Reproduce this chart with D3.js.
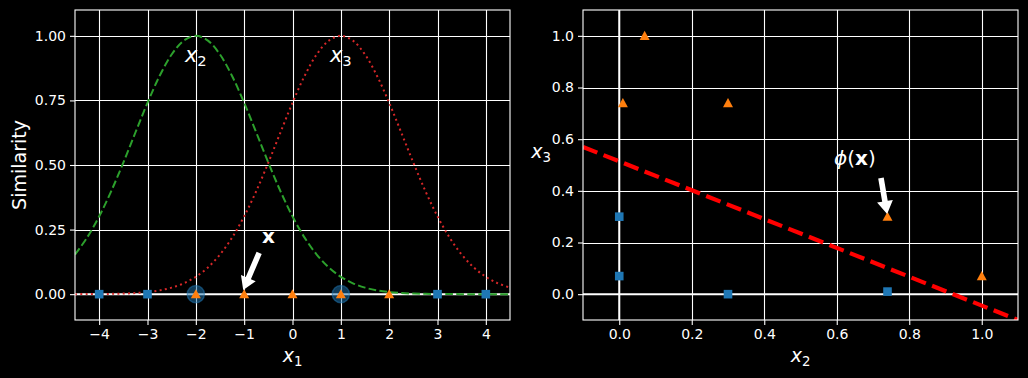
<!DOCTYPE html>
<html>
<head>
<meta charset="utf-8">
<script src="https://cdn.jsdelivr.net/npm/d3@7"></script>
<style>
  html, body { margin: 0; padding: 0; background: #000; }
  svg { display: block; }
  text { font-family: 'DejaVu Sans', sans-serif; fill: #fff; }
</style>
</head>
<body>
<div id="chart"></div>
<script>
// sample grid for the two similarity curves
const sampleX = [-4.5, -4.25, -4, -3.75, -3.5, -3.25, -3, -2.75, -2.5, -2.25, -2, -1.75, -1.5, -1.25, -1, -0.75,
  -0.5, -0.25, 0, 0.25, 0.5, 0.75, 1, 1.25, 1.5, 1.75, 2, 2.25, 2.5, 2.75, 3, 3.25, 3.5, 3.75, 4, 4.25, 4.5];
const simX2 = [0.1534, 0.2190, 0.3012, 0.3990, 0.5092, 0.6258, 0.7408, 0.8447, 0.9277, 0.9814, 1.0000, 0.9814,
  0.9277, 0.8447, 0.7408, 0.6258, 0.5092, 0.3990, 0.3012, 0.2190, 0.1534, 0.1035, 0.0672, 0.0421, 0.0253, 0.0147,
  0.0082, 0.0044, 0.0023, 0.0012, 0.0006, 0.0003, 0.0001, 0.0001, 0.0000, 0.0000, 0.0000];
const simX3 = [0.0001, 0.0003, 0.0006, 0.0012, 0.0023, 0.0044, 0.0082, 0.0147, 0.0253, 0.0421, 0.0672, 0.1035,
  0.1534, 0.2190, 0.3012, 0.3990, 0.5092, 0.6258, 0.7408, 0.8447, 0.9277, 0.9814, 1.0000, 0.9814, 0.9277, 0.8447,
  0.7408, 0.6258, 0.5092, 0.3990, 0.3012, 0.2190, 0.1534, 0.1035, 0.0672, 0.0421, 0.0253];

// the 1D instances, their class and the two landmarks
const x1Points = [-4, -3, -2, -1, 0, 1, 2, 3, 4];
const pointClass = [0, 0, 1, 1, 1, 1, 1, 0, 0];
const landmarks = [-2, 1];

// the same instances in the new feature space
const featX2 = [0.30, 0.74, 1.00, 0.74, 0.30, 0.07, 0.01, 0.00, 0.00];
const featX3 = [0.00, 0.01, 0.07, 0.30, 0.74, 1.00, 0.74, 0.30, 0.07];

// separating line in feature space
const boundaryX = [-0.1, 1.1];
const boundaryY = [0.57, -0.1];

// tick values
const leftXTicks = [-4, -3, -2, -1, 0, 1, 2, 3, 4];
const leftYTicks = [0, 0.25, 0.5, 0.75, 1.0];
const rightXTicks = [0, 0.2, 0.4, 0.6, 0.8, 1.0];
const rightYTicks = [0, 0.2, 0.4, 0.6, 0.8, 1.0];

const width = 1028;
const height = 378;
const plotTop = 10;
const plotBottom = 320;

const blue = '#1f77b4';
const orange = '#ff7f0e';

const svg = d3.select('#chart')
  .append('svg')
  .attr('width', width)
  .attr('height', height)
  .style('background', '#000');

function mathLabel(g, x, y, base, sub, size, anchor) {
  const t = g.append('text')
    .attr('x', x)
    .attr('y', y)
    .attr('text-anchor', anchor || 'middle')
    .style('font-size', `${size}px`);
  t.append('tspan').style('font-style', 'italic').text(base);
  t.append('tspan').attr('dy', size * 0.2).style('font-size', `${size * 0.7}px`).text(sub);
  return t;
}

function arrow(g, tail, tip) {
  const dx = tip[0] - tail[0];
  const dy = tip[1] - tail[1];
  const len = Math.sqrt(dx * dx + dy * dy);
  const u = [dx / len, dy / len];
  const n = [-u[1], u[0]];
  const headLen = 13;
  const headW = 8;
  const bodyW = 2.8;
  const b = [tip[0] - u[0] * headLen, tip[1] - u[1] * headLen];
  const pts = [
    [tail[0] + n[0] * bodyW, tail[1] + n[1] * bodyW],
    [b[0] + n[0] * bodyW, b[1] + n[1] * bodyW],
    [b[0] + n[0] * headW, b[1] + n[1] * headW],
    tip,
    [b[0] - n[0] * headW, b[1] - n[1] * headW],
    [b[0] - n[0] * bodyW, b[1] - n[1] * bodyW],
    [tail[0] - n[0] * bodyW, tail[1] - n[1] * bodyW],
  ];
  g.append('polygon')
    .attr('points', pts.map((p) => p.join(',')).join(' '))
    .attr('fill', '#fff');
}

function frame(id, x, y, xTicks, yTicks, xFmt, yFmt) {
  const g = svg.append('g');
  g.append('clipPath').attr('id', id)
    .append('rect')
    .attr('x', x.range()[0])
    .attr('y', plotTop)
    .attr('width', x.range()[1] - x.range()[0])
    .attr('height', plotBottom - plotTop);

  // grid
  g.append('g')
    .selectAll('line')
    .data(xTicks)
    .join('line')
    .attr('x1', (d) => Math.round(x(d)) + 0.5)
    .attr('x2', (d) => Math.round(x(d)) + 0.5)
    .attr('y1', plotTop)
    .attr('y2', plotBottom)
    .attr('stroke', '#fff')
    .attr('stroke-width', 1.1);
  g.append('g')
    .selectAll('line')
    .data(yTicks)
    .join('line')
    .attr('y1', (d) => Math.round(y(d)) + 0.5)
    .attr('y2', (d) => Math.round(y(d)) + 0.5)
    .attr('x1', x.range()[0])
    .attr('x2', x.range()[1])
    .attr('stroke', '#fff')
    .attr('stroke-width', 1.1);

  const xAxis = d3.axisBottom(x).tickValues(xTicks).tickFormat(xFmt).tickSize(5).tickPadding(4);
  const yAxis = d3.axisLeft(y).tickValues(yTicks).tickFormat(yFmt).tickSize(5).tickPadding(4);

  const ax = g.append('g').attr('transform', `translate(0,${plotBottom})`).call(xAxis);
  const ay = g.append('g').attr('transform', `translate(${x.range()[0]},0)`).call(yAxis);
  [ax, ay].forEach((a) => {
    a.select('.domain').remove();
    a.selectAll('line').attr('stroke', '#fff').attr('stroke-width', 1.1);
    a.selectAll('text').attr('fill', '#fff')
      .style('font-size', '14px')
      .style('font-family', 'DejaVu Sans, sans-serif');
  });

  const plot = g.append('g').attr('clip-path', `url(#${id})`);
  return { g, plot };
}

function spines(g, x) {
  g.append('rect')
    .attr('x', x.range()[0])
    .attr('y', plotTop)
    .attr('width', x.range()[1] - x.range()[0])
    .attr('height', plotBottom - plotTop)
    .attr('fill', 'none')
    .attr('stroke', '#fff')
    .attr('stroke-width', 1.1);
}

function squares(sel, xs, ys) {
  sel.append('g')
    .selectAll('rect')
    .data(xs)
    .join('rect')
    .attr('x', (d) => d - 4.3)
    .attr('y', (d, i) => ys[i] - 4.3)
    .attr('width', 8.6)
    .attr('height', 8.6)
    .attr('fill', blue);
}

function triangles(sel, xs, ys) {
  sel.append('g')
    .selectAll('path')
    .data(xs)
    .join('path')
    .attr('d', (d, i) => `M${d},${ys[i] - 5}L${d + 5},${ys[i] + 4.2}L${d - 5},${ys[i] + 4.2}Z`)
    .attr('fill', orange);
}

// ---------- left panel ----------
const xL = d3.scaleLinear().domain([-4.5, 4.5]).range([75, 510]);
const yL = d3.scaleLinear().domain([-0.1, 1.1]).range([plotBottom, plotTop]);
const leftPanel = frame('clipL', xL, yL, leftXTicks, leftYTicks, d3.format('d'), d3.format('.2f'));

leftPanel.plot.append('line')
  .attr('x1', xL.range()[0])
  .attr('x2', xL.range()[1])
  .attr('y1', yL(0))
  .attr('y2', yL(0))
  .attr('stroke', '#fff')
  .attr('stroke-width', 2);

const curve = d3.line()
  .x((d, i) => xL(sampleX[i]))
  .y((d) => yL(d))
  .curve(d3.curveCatmullRom);

leftPanel.plot.append('path')
  .attr('d', curve(simX2))
  .attr('fill', 'none')
  .attr('stroke', '#2ca02c')
  .attr('stroke-width', 2)
  .attr('stroke-dasharray', '7.7,3.3');

leftPanel.plot.append('path')
  .attr('d', curve(simX3))
  .attr('fill', 'none')
  .attr('stroke', '#d62728')
  .attr('stroke-width', 2)
  .attr('stroke-dasharray', '2,3.3');

leftPanel.plot.append('g')
  .selectAll('circle')
  .data(landmarks)
  .join('circle')
  .attr('cx', (d) => xL(d))
  .attr('cy', yL(0))
  .attr('r', 8.6)
  .attr('fill', blue)
  .attr('fill-opacity', 0.5)
  .attr('stroke', blue)
  .attr('stroke-opacity', 0.5)
  .attr('stroke-width', 1.4);

const blueL = x1Points.filter((d, i) => pointClass[i] === 0);
const orangeL = x1Points.filter((d, i) => pointClass[i] === 1);
squares(leftPanel.plot, blueL.map((d) => xL(d)), blueL.map(() => yL(0)));
triangles(leftPanel.plot, orangeL.map((d) => xL(d)), orangeL.map(() => yL(0)));

spines(leftPanel.g, xL);

mathLabel(leftPanel.g, xL(-2), yL(0.9), 'x', '2', 21);
mathLabel(leftPanel.g, xL(1), yL(0.9), 'x', '3', 21);

arrow(leftPanel.g, [xL(-0.69), yL(0.16)], [xL(-1.02), yL(0.016)]);
leftPanel.g.append('text')
  .attr('x', xL(-0.5))
  .attr('y', yL(0.2))
  .attr('text-anchor', 'middle')
  .style('font-size', '20px')
  .style('font-weight', 'bold')
  .text('x');

mathLabel(leftPanel.g, xL(0), 362, 'x', '1', 19);
leftPanel.g.append('text')
  .attr('transform', `translate(26,${(plotTop + plotBottom) / 2}) rotate(-90)`)
  .attr('text-anchor', 'middle')
  .style('font-size', '19px')
  .text('Similarity');

// ---------- right panel ----------
const xR = d3.scaleLinear().domain([-0.1, 1.1]).range([583, 1018]);
const yR = d3.scaleLinear().domain([-0.1, 1.1]).range([plotBottom, plotTop]);
const rightPanel = frame('clipR', xR, yR, rightXTicks, rightYTicks, d3.format('.1f'), d3.format('.1f'));

rightPanel.plot.append('line')
  .attr('x1', xR.range()[0])
  .attr('x2', xR.range()[1])
  .attr('y1', yR(0))
  .attr('y2', yR(0))
  .attr('stroke', '#fff')
  .attr('stroke-width', 2);
rightPanel.plot.append('line')
  .attr('x1', xR(0))
  .attr('x2', xR(0))
  .attr('y1', plotTop)
  .attr('y2', plotBottom)
  .attr('stroke', '#fff')
  .attr('stroke-width', 2);

const blueIdx = x1Points.map((d, i) => i).filter((i) => pointClass[i] === 0);
const orangeIdx = x1Points.map((d, i) => i).filter((i) => pointClass[i] === 1);
squares(rightPanel.plot, blueIdx.map((i) => xR(featX2[i])), blueIdx.map((i) => yR(featX3[i])));
triangles(rightPanel.plot, orangeIdx.map((i) => xR(featX2[i])), orangeIdx.map((i) => yR(featX3[i])));

rightPanel.plot.append('path')
  .attr('d', d3.line()(boundaryX.map((d, i) => [xR(d), yR(boundaryY[i])])))
  .attr('fill', 'none')
  .attr('stroke', '#ff0000')
  .attr('stroke-width', 4.2)
  .attr('stroke-dasharray', '15.4,6.7');

spines(rightPanel.g, xR);

arrow(rightPanel.g, [xR(0.722), yR(0.45)], [xR(0.739), yR(0.31)]);
const phi = rightPanel.g.append('text')
  .attr('x', xR(0.65))
  .attr('y', yR(0.5))
  .attr('text-anchor', 'middle')
  .style('font-size', '20px');
phi.append('tspan').style('font-style', 'italic').text('ϕ');
phi.append('tspan').text('(');
phi.append('tspan').style('font-weight', 'bold').text('x');
phi.append('tspan').text(')');

mathLabel(rightPanel.g, (xR.range()[0] + xR.range()[1]) / 2, 362, 'x', '2', 19);
mathLabel(rightPanel.g, 541, 158, 'x', '3', 19);
</script>
</body>
</html>
